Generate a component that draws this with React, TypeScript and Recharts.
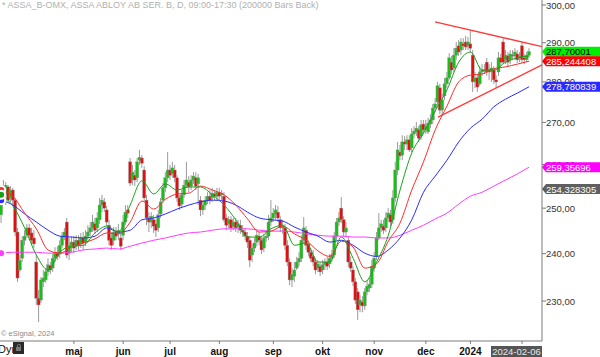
import React from "react";
import { Bar, ComposedChart, Line, ReferenceLine, XAxis, YAxis } from "recharts";

// daily candles, day 0 = mid March 2023, day 225 = 2024-02-06
const open = [
  248.5, 254.1, 253.0, 254.8, 252.3, 254.1, 251.8, 244.7, 236.5, 239.0,
  242.9, 244.0, 245.6, 244.5, 243.4, 238.2, 230.6, 230.2, 234.0, 234.4,
  236.1, 237.4, 236.9, 239.0, 240.3, 239.9, 241.8, 243.8, 246.9, 240.1,
  241.8, 242.5, 241.6, 242.9, 242.1, 243.4, 242.5, 243.8, 244.7, 245.6,
  246.5, 245.6, 247.4, 250.7, 251.4, 249.6, 246.2, 243.4, 242.9, 244.7,
  244.3, 243.4, 244.0, 246.9, 249.6, 260.6, 256.4, 257.5, 256.9, 261.0,
  261.5, 258.7, 251.8, 247.8, 246.9, 247.4, 246.5, 245.6, 248.7, 251.8,
  254.6, 256.9, 258.7, 257.8, 258.7, 256.9, 252.3, 250.9, 253.0, 255.2,
  255.9, 255.0, 256.4, 256.9, 255.5, 251.8, 249.6, 250.7, 251.8, 252.7,
  252.3, 253.2, 252.7, 253.6, 253.0, 252.7, 247.8, 246.5, 247.4, 246.0,
  246.9, 245.8, 246.2, 245.1, 244.7, 243.8, 242.9, 239.7, 241.2, 242.5,
  243.8, 242.9, 241.2, 243.4, 243.8, 246.9, 247.8, 248.7, 249.1, 247.4,
  245.6, 245.6, 241.8, 238.2, 234.4, 235.2, 236.9, 238.2, 239.0, 242.9,
  245.1, 242.1, 240.3, 239.4, 238.2, 236.9, 237.3, 236.5, 237.6, 238.2,
  237.8, 239.0, 239.7, 243.8, 246.9, 250.0, 247.4, 244.7, 242.9, 238.2,
  236.5, 234.0, 231.9, 229.2, 229.8, 229.0, 231.9, 232.7, 233.5, 236.9,
  239.4, 243.4, 245.6, 246.0, 245.6, 247.8, 248.5, 247.4, 252.3, 258.7,
  262.9, 262.2, 265.3, 264.8, 265.8, 263.9, 267.2, 267.7, 268.2, 266.7,
  269.6, 268.2, 267.7, 269.6, 270.6, 273.5, 275.0, 278.5, 273.0, 276.5,
  279.5, 281.0, 285.0, 283.5, 286.8, 289.2, 288.1, 289.7, 290.2, 289.2,
  289.7, 286.8, 280.0, 281.0, 279.5, 282.5, 283.0, 285.0, 283.0, 282.5,
  283.0, 280.5, 282.5, 286.1, 290.2, 285.6, 286.6, 285.6, 286.8, 286.6,
  287.1, 286.1, 289.2, 286.1, 285.6, 286.8,
];
const high = [
  255.2, 256.4, 255.9, 255.2, 255.0, 254.6, 252.3, 245.6, 239.7, 243.8,
  245.1, 246.5, 246.5, 245.6, 245.1, 239.7, 232.3, 235.0, 236.5, 236.9,
  239.0, 238.2, 239.9, 241.4, 241.6, 242.9, 244.7, 245.6, 247.8, 243.4,
  243.8, 243.8, 244.0, 244.0, 244.5, 244.7, 245.1, 246.2, 246.9, 248.5,
  247.8, 249.1, 252.3, 253.0, 252.3, 250.5, 247.4, 244.7, 245.8, 245.8,
  246.5, 244.7, 248.5, 250.7, 250.7, 261.5, 259.9, 258.7, 261.5, 263.4,
  262.2, 259.6, 253.0, 249.1, 249.1, 248.5, 247.4, 249.6, 252.3, 255.7,
  258.2, 262.9, 259.9, 260.6, 259.9, 257.5, 253.0, 254.1, 256.4, 260.6,
  257.3, 257.5, 258.2, 258.2, 257.8, 252.7, 251.8, 252.7, 253.6, 254.1,
  254.6, 254.1, 254.6, 254.6, 254.1, 253.6, 248.7, 248.2, 248.2, 247.8,
  247.8, 247.4, 247.4, 246.2, 245.6, 244.7, 243.8, 242.1, 243.4, 245.1,
  244.7, 243.8, 244.3, 245.1, 248.5, 251.8, 250.0, 250.7, 250.5, 248.2,
  247.4, 246.5, 242.9, 239.0, 236.9, 238.2, 239.3, 240.3, 244.0, 248.0,
  246.0, 242.9, 241.2, 240.8, 239.0, 238.6, 238.2, 238.6, 239.0, 239.4,
  239.9, 240.8, 244.7, 247.8, 249.1, 252.5, 248.2, 246.9, 243.8, 239.4,
  237.3, 234.8, 232.7, 231.2, 231.0, 232.7, 234.4, 234.8, 238.6, 240.3,
  244.7, 248.9, 247.4, 247.4, 249.1, 250.0, 249.6, 254.1, 260.6, 265.3,
  264.6, 266.9, 266.7, 266.9, 266.9, 268.6, 269.1, 270.1, 269.1, 270.6,
  270.6, 270.6, 271.1, 272.0, 274.5, 276.0, 280.0, 279.5, 277.0, 281.0,
  282.5, 287.3, 286.6, 288.6, 290.2, 290.7, 291.2, 291.2, 291.8, 291.5,
  293.3, 288.1, 282.5, 282.0, 284.0, 284.5, 284.5, 286.1, 284.5, 285.0,
  284.0, 281.7, 287.6, 287.1, 291.2, 288.1, 287.6, 288.1, 288.1, 288.6,
  288.1, 287.6, 290.2, 287.1, 287.6, 288.6,
];
const low = [
  246.7, 251.8, 250.7, 251.2, 251.4, 250.7, 243.8, 234.0, 236.1, 238.2,
  241.8, 243.4, 242.9, 241.8, 241.2, 229.2, 225.7, 229.6, 232.9, 233.8,
  235.2, 235.6, 236.1, 238.2, 238.6, 239.0, 241.2, 242.9, 239.0, 238.6,
  240.3, 240.1, 240.8, 240.8, 241.2, 240.8, 241.6, 242.9, 243.8, 244.7,
  244.3, 244.7, 246.5, 249.1, 249.1, 246.0, 241.8, 240.8, 241.8, 242.9,
  242.9, 240.8, 242.9, 246.2, 247.8, 255.0, 255.2, 255.0, 255.9, 259.9,
  259.2, 251.4, 246.2, 244.7, 245.6, 244.5, 243.6, 244.7, 247.8, 251.2,
  253.6, 255.9, 256.4, 256.9, 255.9, 251.4, 249.6, 250.0, 252.3, 254.6,
  253.6, 254.1, 255.5, 254.1, 250.7, 248.2, 248.5, 249.6, 250.9, 250.9,
  251.4, 251.8, 251.8, 251.8, 251.8, 246.9, 245.1, 245.6, 244.7, 245.1,
  244.7, 244.5, 244.3, 243.6, 242.9, 241.2, 237.1, 238.2, 240.3, 241.6,
  241.8, 239.9, 240.3, 242.5, 242.9, 246.0, 246.9, 247.4, 246.9, 244.7,
  244.3, 240.8, 237.3, 233.3, 232.9, 234.0, 236.5, 237.3, 238.2, 242.1,
  240.8, 239.4, 238.2, 237.3, 235.6, 236.1, 235.2, 235.6, 236.5, 236.5,
  236.9, 238.2, 239.0, 242.9, 246.0, 246.7, 243.8, 243.8, 237.1, 236.1,
  233.1, 229.4, 226.1, 227.7, 227.7, 228.2, 231.2, 231.9, 232.7, 236.1,
  238.6, 242.9, 244.7, 244.3, 244.7, 246.9, 246.0, 246.5, 251.4, 257.5,
  261.0, 261.0, 263.4, 263.4, 262.9, 262.9, 266.2, 266.7, 265.3, 265.8,
  267.2, 267.2, 267.2, 268.6, 269.6, 272.5, 274.0, 272.0, 271.8, 275.5,
  278.5, 280.5, 282.0, 282.5, 285.6, 286.6, 286.8, 288.1, 288.1, 288.1,
  287.6, 277.5, 278.5, 277.5, 279.0, 281.5, 282.0, 281.5, 280.5, 280.0,
  279.5, 278.5, 281.5, 284.0, 284.5, 284.5, 284.0, 284.5, 285.6, 285.6,
  284.8, 285.0, 284.8, 284.5, 285.0, 286.1,
];
const close = [
  254.1, 253.0, 255.2, 251.8, 254.1, 251.8, 244.7, 234.8, 238.6, 242.9,
  243.8, 245.6, 244.0, 242.9, 242.1, 230.6, 229.2, 234.4, 234.8, 236.1,
  237.6, 236.5, 239.0, 240.3, 239.4, 241.8, 243.8, 244.7, 239.7, 241.8,
  242.5, 241.2, 242.9, 241.8, 243.4, 242.3, 243.8, 244.7, 245.6, 246.9,
  245.1, 247.8, 250.7, 251.8, 250.0, 246.9, 242.9, 241.8, 244.7, 243.8,
  245.1, 241.6, 246.9, 249.1, 248.9, 255.7, 258.2, 256.4, 260.6, 261.7,
  260.3, 252.3, 247.8, 246.9, 248.2, 246.0, 245.1, 248.5, 251.4, 254.6,
  256.9, 258.7, 257.5, 259.2, 256.9, 252.3, 250.5, 253.0, 255.2, 256.4,
  254.8, 256.4, 257.3, 255.0, 256.9, 249.6, 250.7, 251.8, 252.7, 251.8,
  253.4, 252.7, 253.6, 252.7, 253.4, 247.4, 246.2, 247.4, 245.6, 246.9,
  245.6, 246.5, 245.1, 244.7, 243.8, 242.5, 238.6, 241.2, 242.3, 244.0,
  242.9, 240.8, 243.4, 243.8, 246.9, 247.8, 248.9, 249.6, 247.8, 245.6,
  246.0, 241.8, 238.2, 234.4, 235.6, 236.5, 238.2, 239.0, 242.9, 245.6,
  241.8, 240.3, 239.0, 238.2, 236.5, 237.8, 236.1, 237.6, 238.2, 237.3,
  239.0, 239.7, 243.8, 246.9, 247.8, 247.4, 244.7, 245.6, 238.2, 236.9,
  234.0, 230.2, 228.2, 230.2, 229.0, 231.9, 233.1, 233.5, 237.3, 239.0,
  243.4, 245.6, 246.5, 245.1, 247.8, 248.9, 246.9, 252.3, 258.7, 263.4,
  262.0, 265.3, 264.8, 265.8, 263.4, 267.2, 267.9, 268.6, 266.2, 269.4,
  268.2, 269.1, 269.8, 270.6, 273.5, 274.5, 279.0, 273.0, 275.5, 279.5,
  281.0, 286.1, 283.0, 286.8, 288.6, 287.6, 290.2, 289.2, 288.9, 290.2,
  288.6, 280.0, 281.0, 278.7, 282.5, 283.0, 282.8, 282.5, 282.5, 283.5,
  280.5, 280.0, 286.1, 285.0, 285.0, 286.8, 285.0, 287.1, 286.6, 287.6,
  285.6, 286.6, 285.6, 285.6, 286.8, 287.7,
];

// moving averages, read every 5th day
const maDays = [
  0, 5, 10, 15, 20, 25, 30, 35, 40, 45, 50, 55, 60, 65, 70, 75, 80, 85, 90, 95,
  100, 105, 110, 115, 120, 125, 130, 135, 140, 145, 150, 155, 160, 165, 170, 175, 180, 185, 190, 195,
  200, 205, 210, 215, 220, 225,
];
const greenMA = [
  253.0, 250.5, 245.6, 239.7, 236.5, 240.3, 241.6, 241.8, 244.5, 246.0,
  244.7, 250.7, 256.2, 253.2, 255.5, 254.1, 254.8, 254.8, 253.0, 250.7,
  247.4, 243.6, 243.6, 245.4, 246.2, 241.8, 242.3, 238.2, 238.2, 243.6,
  239.0, 234.0, 238.2, 244.0, 254.1, 262.7, 267.4, 272.8, 278.0, 285.0,
  287.6, 283.0, 283.0, 285.0, 286.1, 286.6,
];
const redMA = [
  254.1, 252.7, 248.9, 245.4, 240.8, 240.1, 241.4, 242.3, 243.2, 244.5,
  244.3, 246.9, 251.6, 249.8, 252.0, 253.2, 253.4, 255.0, 254.1, 253.0,
  250.7, 247.6, 244.7, 244.9, 246.0, 244.3, 242.9, 240.6, 239.4, 242.7,
  241.4, 236.9, 237.8, 242.7, 246.7, 254.1, 260.6, 268.2, 274.0, 280.0,
  281.7, 282.0, 283.3, 283.8, 284.5, 285.244408,
];
const blueMA = [
  251.8, 250.7, 248.7, 246.9, 245.1, 243.8, 243.6, 243.4, 243.8, 245.6,
  244.7, 245.1, 247.4, 247.8, 248.7, 249.8, 250.7, 251.4, 251.8, 251.6,
  250.7, 249.1, 247.8, 247.4, 247.1, 245.8, 244.7, 243.8, 242.5, 242.9,
  241.8, 240.1, 239.4, 240.8, 243.4, 247.4, 253.6, 257.3, 261.0, 265.3,
  268.6, 270.8, 273.8, 275.7, 277.2, 278.780839,
];
const magentaMA = [
  240.1, 240.3, 240.3, 240.3, 240.1, 240.1, 240.3, 240.8, 241.0, 241.2,
  241.0, 241.6, 242.3, 242.9, 243.4, 244.0, 244.5, 244.7, 245.1, 245.4,
  245.4, 245.4, 245.1, 244.9, 244.9, 244.7, 244.3, 244.0, 243.8, 243.8,
  243.6, 243.6, 243.4, 243.4, 244.0, 245.1, 246.2, 247.6, 248.9, 250.9,
  252.7, 253.6, 255.0, 256.4, 257.8, 259.35696,
];

// triangle trendlines: [day, price]
const upperTrend = [[184.9, 295.5], [230.5, 289.0]];
const lowerTrend = [[186.2, 271.3], [230.5, 284.3]];

const tickDays = [31, 52, 72, 93, 116, 137, 159, 181, 200, 222];
const tickLabels = ["maj", "jun", "jul", "aug", "sep", "okt", "nov", "dec", "2024", ""];
const priceTicks = [230, 240, 250, 260, 270, 280, 290, 300];

// last values shown as tags on the price axis
const tagValues = [287.70001, 285.244408, 278.780839, 259.35696, 254.328305];
const tagFills = ["#00ee00", "#ff0000", "#2b2bff", "#ff00ff", "#5f5f5f"];
const tagText = ["#000000", "#ffffff", "#ffffff", "#ffffff", "#ffffff"];

const lastDate = "2024-02-06";

const candles = open.map((o, i) => ({
  day: i,
  open: o,
  high: high[i],
  low: low[i],
  close: close[i],
  range: [low[i], high[i]],
}));

const maRows = maDays.map((day, i) => ({
  day,
  green: greenMA[i],
  red: redMA[i],
  blue: blueMA[i],
  magenta: magentaMA[i],
}));

const FONT = "'Liberation Sans', Arial, sans-serif";

const Candle = (props: any) => {
  const {x, y, width, height, payload} = props;
  if (!payload) return null;
  const top = Math.min(y, y + height);
  const bottom = Math.max(y, y + height);
  const span = Math.log(payload.high) - Math.log(payload.low);
  const at = (v: number) => top + (bottom - top) * (Math.log(payload.high) - Math.log(v)) / span;
  const cx = x + width / 2;
  const yo = at(payload.open);
  const yc = at(payload.close);
  const up = payload.close >= payload.open;
  return <g>
    <line x1={cx} x2={cx} y1={top} y2={bottom} stroke="#9a9a9a" strokeWidth={1}/>
    <rect x={cx - 1.5} y={Math.min(yo, yc)} width={3} height={Math.max(Math.abs(yc - yo), 1)}
          fill={up ? "#16c016" : "#e01010"} stroke="#8c8c8c" strokeWidth={0.4}/>
  </g>
};

const DateTick = (props: any) => {
  const {x, y, payload} = props;
  const i = tickDays.indexOf(payload.value);
  return <text x={x} y={y + 9} textAnchor="middle" fontSize={10} fontWeight="bold" fontFamily={FONT} fill="#111">
    {i >= 0 ? tickLabels[i] : ""}
  </text>
};

// price ticks first, tags after, so the tags cover the labels
const PriceTick = (props: any) => {
  const {x, y, payload} = props;
  const t = tagValues.indexOf(payload.value);
  if (t >= 0) {
    const px = x - 4;
    return <g>
      <path d={`M${px},${y} L${px + 4},${y - 5} L${px + 60},${y - 5} L${px + 60},${y + 5} L${px + 4},${y + 5} Z`}
            fill={tagFills[t]}/>
      <text x={px + 4} y={y + 3.5} fontSize={9.5} fontFamily={FONT} fill={tagText[t]}>
        {String(payload.value).replace(".", ",")}
      </text>
    </g>
  }
  return <g>
    <line x1={x - 4} x2={x} y1={y} y2={y} stroke="#7a7a7a"/>
    <text x={x} y={y + 3.5} fontSize={9.5} fontFamily={FONT} fill="#333">
      {payload.value.toFixed(2).replace(".", ",")}
    </text>
  </g>
};

export default function App() {
  return (
    <div style={{position: "absolute", left: 0, top: 0, width: 600, height: 357, background: "#fff", overflow: "hidden"}}>
      <ComposedChart width={600} height={357} data={candles} margin={{top: 0, right: 0, bottom: 0, left: 0}}>
        <XAxis dataKey="day" type="number" domain={[-0.5, 230.5]} allowDataOverflow ticks={tickDays} interval={0}
               height={16} tick={<DateTick/>} tickSize={3} stroke="#7a7a7a"/>
        <YAxis orientation="right" type="number" scale="log" domain={[221.9, 301.35]} allowDataOverflow
               ticks={[...priceTicks, ...tagValues]} interval={0} width={58} tick={<PriceTick/>}
               tickSize={4} tickMargin={0} tickLine={{stroke: "none"}} stroke="#7a7a7a"/>
        <Bar dataKey="range" barSize={3} shape={<Candle/>} isAnimationActive={false}/>
        <Line data={maRows} dataKey="magenta" type="monotone" stroke="#ff3cff" strokeWidth={1} dot={false} isAnimationActive={false}/>
        <Line data={maRows} dataKey="blue" type="monotone" stroke="#2b2bff" strokeWidth={1} dot={false} isAnimationActive={false}/>
        <Line data={maRows} dataKey="red" type="monotone" stroke="#ff2b2b" strokeWidth={1} dot={false} isAnimationActive={false}/>
        <Line data={maRows} dataKey="green" type="monotone" stroke="#1aa01a" strokeWidth={1} dot={false} isAnimationActive={false}/>
        <ReferenceLine segment={upperTrend.map(([x, y]) => ({x, y}))} stroke="#ff3a3a" strokeWidth={1.3}/>
        <ReferenceLine segment={lowerTrend.map(([x, y]) => ({x, y}))} stroke="#ff3a3a" strokeWidth={1.3}/>
      </ComposedChart>
      <div style={{position: "absolute", left: 2, top: 0, fontFamily: FONT, fontSize: 9, color: "#b0b0b0", whiteSpace: "nowrap"}}>
        * ASSA_B-OMX, ASSA ABLOY AB SER. B, D, 09:00-17:30 (200000 Bars Back)
      </div>
      <div style={{position: "absolute", left: 1, top: 329, fontFamily: FONT, fontSize: 7.5, color: "#8a8a8a", whiteSpace: "nowrap"}}>
        © eSignal, 2024
      </div>
      <div style={{position: "absolute", left: -2, top: 343, fontFamily: FONT, fontSize: 11, color: "#111", whiteSpace: "nowrap"}}>
        Dyn
      </div>
      <div style={{position: "absolute", left: 13, top: 342, width: 11, height: 12, background: "#2a2a2a"}}>
        <div style={{position: "absolute", left: 3, top: 5, width: 5, height: 4, background: "#777"}}/>
        <div style={{position: "absolute", left: 3.5, top: 2, width: 2, height: 3, border: "1px solid #777", borderBottom: "none", borderRadius: "2px 2px 0 0"}}/>
      </div>
      <div style={{position: "absolute", left: 491, top: 346, width: 51, height: 11, background: "#555", color: "#e8e8e8",
        fontFamily: FONT, fontSize: 9.5, lineHeight: "11px", textAlign: "center"}}>
        {lastDate}
      </div>
    </div>
  );
}
